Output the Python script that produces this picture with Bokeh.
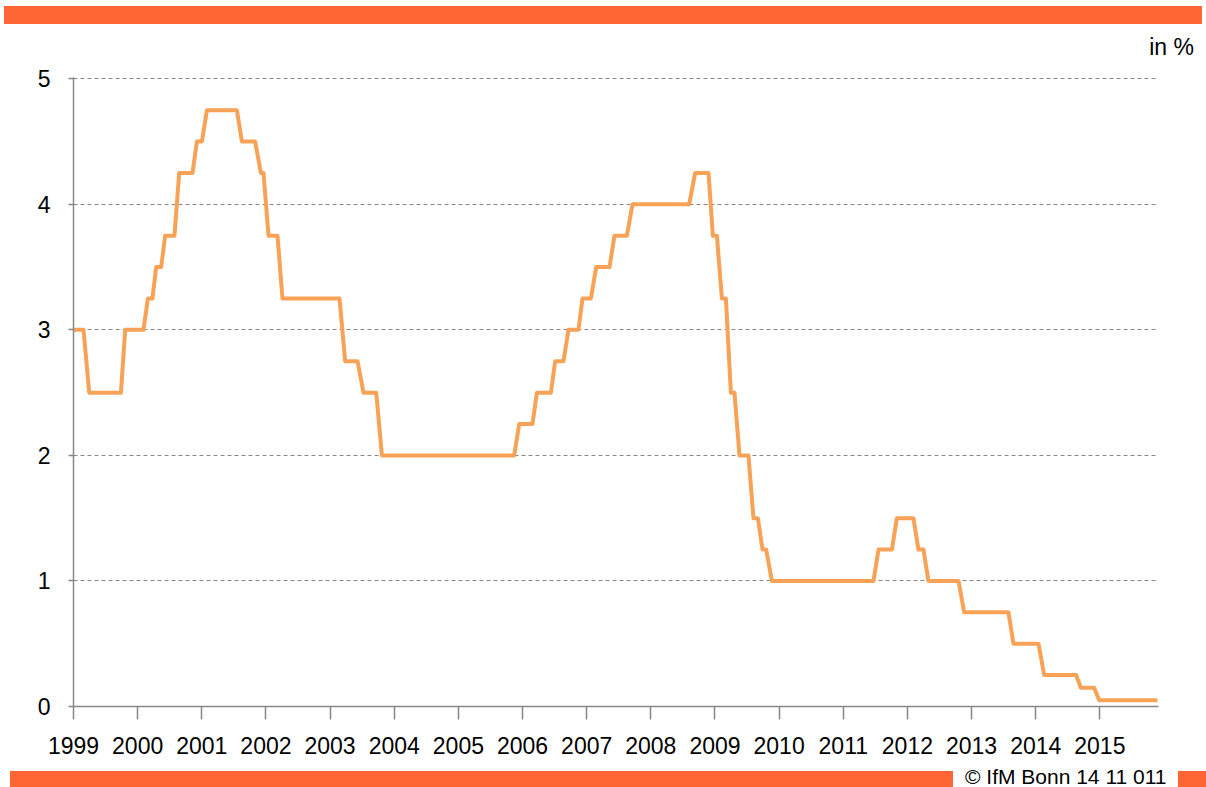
from bokeh.plotting import figure
from bokeh.layouts import column
from bokeh.models import Range1d, FixedTicker, Div
from bokeh.embed import file_html
from bokeh.resources import INLINE

# ---- data -------------------------------------------------------------
years = list(range(1999, 2016))
year_labels = [str(y) for y in years]
y_ticks = [0, 1, 2, 3, 4, 5]
y_labels = ["0", "1", "2", "3", "4", "5"]

# vertices of the (stepped) rate series, time in fractional years
dates = [1999.000, 1999.156, 1999.245, 1999.739, 1999.806, 2000.091, 2000.160,
         2000.231, 2000.289, 2000.367, 2000.429, 2000.574, 2000.648, 2000.855,
         2000.924, 2001.002, 2001.080, 2001.547, 2001.625, 2001.832, 2001.921,
         2001.962, 2002.040, 2002.180, 2002.258, 2003.147, 2003.235, 2003.427,
         2003.521, 2003.719, 2003.808, 2005.870, 2005.948, 2006.155, 2006.224,
         2006.442, 2006.509, 2006.638, 2006.716, 2006.872, 2006.935, 2007.066,
         2007.148, 2007.356, 2007.433, 2007.627, 2007.714, 2008.598, 2008.691,
         2008.899, 2008.967, 2009.030, 2009.108, 2009.170, 2009.248, 2009.304,
         2009.382, 2009.522, 2009.600, 2009.669, 2009.741, 2009.798, 2009.887,
         2011.471, 2011.549, 2011.758, 2011.836, 2012.094, 2012.172, 2012.250,
         2012.328, 2012.796, 2012.885, 2013.575, 2013.653, 2014.043, 2014.132,
         2014.630, 2014.704, 2014.911, 2014.989, 2015.898]
rates = [3.0, 3.0, 2.5, 2.5, 3.0, 3.0, 3.25, 3.25, 3.5, 3.5, 3.75, 3.75, 4.25,
         4.25, 4.5, 4.5, 4.75, 4.75, 4.5, 4.5, 4.25, 4.25, 3.75, 3.75, 3.25,
         3.25, 2.75, 2.75, 2.5, 2.5, 2.0, 2.0, 2.25, 2.25, 2.5, 2.5, 2.75, 2.75,
         3.0, 3.0, 3.25, 3.25, 3.5, 3.5, 3.75, 3.75, 4.0, 4.0, 4.25, 4.25, 3.75,
         3.75, 3.25, 3.25, 2.5, 2.5, 2.0, 2.0, 1.5, 1.5, 1.25, 1.25, 1.0, 1.0,
         1.25, 1.25, 1.5, 1.5, 1.25, 1.25, 1.0, 1.0, 0.75, 0.75, 0.5, 0.5, 0.25,
         0.25, 0.15, 0.15, 0.05, 0.05]

unit_text = "in %"
footer_text = "\u00a9 IfM Bonn 14 11 011"

# ---- styling ------------------------------------------------------------
FONT = "Liberation Sans"
ORANGE_BAR = "#FF6633"
LINE_COLOR = "#F7A257"
GRAY = "#888888"
W = 1206

# top strip: orange band + unit label
top_html = (
    f'<div style="position:relative;width:{W}px;height:60px;margin:0;padding:0;">'
    f'<div style="position:absolute;left:4px;top:6px;width:1198px;height:18px;'
    f'background:{ORANGE_BAR};"></div>'
    f'<div style="position:absolute;right:12px;top:33px;font-family:\'{FONT}\';'
    f'font-size:23px;line-height:28px;color:black;white-space:nowrap;">{unit_text}</div>'
    '</div>'
)
top = Div(text=top_html, width=W, height=60, styles={"margin": "0", "padding": "0"})

# main chart
p = figure(width=W, height=705, output_backend="svg", toolbar_location=None,
           x_range=Range1d(1999, 2015.914), y_range=Range1d(0, 5.01),
           min_border_left=73, min_border_right=48,
           min_border_top=17, min_border_bottom=59)
p.outline_line_color = None

p.xgrid.visible = False
p.ygrid.ticker = FixedTicker(ticks=y_ticks)
p.ygrid.grid_line_color = GRAY
p.ygrid.grid_line_dash = "4 3"
p.ygrid.grid_line_width = 1

xa = p.xaxis[0]
xa.ticker = FixedTicker(ticks=years)
xa.major_label_overrides = {y: s for y, s in zip(years, year_labels)}
xa.minor_tick_line_color = None
xa.major_tick_in = 0
xa.major_tick_out = 13
xa.major_label_standoff = 17
xa.axis_line_color = GRAY
xa.axis_line_width = 1.5
xa.major_tick_line_color = GRAY
xa.major_tick_line_width = 1.5
xa.major_label_text_font = FONT
xa.major_label_text_font_size = "23px"
xa.major_label_text_color = "black"

ya = p.yaxis[0]
ya.ticker = FixedTicker(ticks=y_ticks)
ya.major_label_overrides = {t: s for t, s in zip(y_ticks, y_labels)}
ya.minor_tick_line_color = None
ya.major_tick_in = 0
ya.major_tick_out = 5
ya.major_label_standoff = 18
ya.axis_line_color = GRAY
ya.axis_line_width = 1.5
ya.major_tick_line_color = GRAY
ya.major_tick_line_width = 1.5
ya.major_label_text_font = FONT
ya.major_label_text_font_size = "23px"
ya.major_label_text_color = "black"

p.line(dates, rates, line_color=LINE_COLOR, line_width=4, line_join="round")

# bottom strip: orange bands + copyright note
bottom_html = (
    f'<div style="position:relative;width:{W}px;height:22px;margin:0;padding:0;">'
    f'<div style="position:absolute;left:10px;top:6px;width:943px;height:16px;'
    f'background:{ORANGE_BAR};"></div>'
    f'<div style="position:absolute;left:1178px;top:6px;width:28px;height:16px;'
    f'background:{ORANGE_BAR};"></div>'
    f'<div style="position:absolute;left:965px;top:0px;font-family:\'{FONT}\';'
    f'font-size:21px;line-height:24px;color:black;white-space:nowrap;">{footer_text}</div>'
    '</div>'
)
bottom = Div(text=bottom_html, width=W, height=22, styles={"margin": "0", "padding": "0"})

layout = column(top, p, bottom, spacing=0)
open("out.html", "w").write(file_html(layout, INLINE))
